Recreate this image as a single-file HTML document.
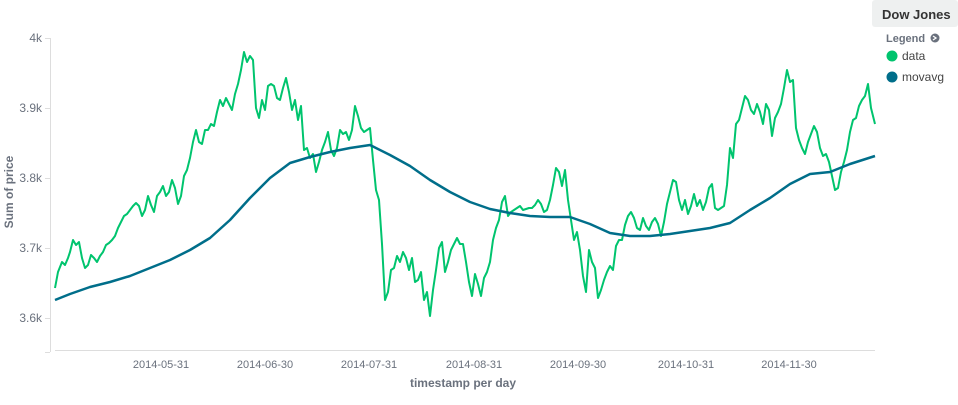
<!DOCTYPE html>
<html><head><meta charset="utf-8"><style>
body{margin:0;background:#fff;width:958px;height:400px;overflow:hidden;font-family:"Liberation Sans",sans-serif}
</style></head><body>
<svg width="958" height="400" xmlns="http://www.w3.org/2000/svg" font-family="Liberation Sans, sans-serif">
<rect x="872" y="0" width="86" height="27" fill="#eef0f0" rx="3"/>
<text x="882" y="19" font-size="13" font-weight="bold" fill="#333">Dow Jones</text>
<text x="886" y="42" font-size="11" font-weight="bold" fill="#6a717d">Legend</text>
<circle cx="935" cy="38" r="4.5" fill="#6a717d"/><path d="M933 36 L936 38 L933 40" stroke="#fff" stroke-width="1.3" fill="none"/>
<circle cx="892" cy="56" r="5.5" fill="#00c46e"/><text x="902" y="60" font-size="12" fill="#444">data</text>
<circle cx="892" cy="77" r="5.5" fill="#006e8a"/><text x="902" y="81" font-size="12" fill="#444">movavg</text>
<g stroke="#ddd" stroke-width="1" fill="none">
<path d="M50.5 38 V352 M45 38.5 H50 M45 108.5 H50 M45 178.5 H50 M45 248.5 H50 M45 318.5 H50 M45 352.5 H50"/>
<path d="M55 350.5 H875"/>
</g>
<g font-size="12" fill="#6a717d" text-anchor="end">
<text x="42" y="42">4k</text><text x="42" y="112">3.9k</text><text x="42" y="182">3.8k</text><text x="42" y="252">3.7k</text><text x="42" y="322">3.6k</text>
</g>
<g font-size="11" fill="#6a717d" text-anchor="middle">
<text x="161" y="368">2014-05-31</text><text x="265" y="368">2014-06-30</text><text x="369" y="368">2014-07-31</text><text x="474" y="368">2014-08-31</text><text x="578" y="368">2014-09-30</text><text x="686" y="368">2014-10-31</text><text x="789" y="368">2014-11-30</text>
</g>
<text x="463" y="387" font-size="12" font-weight="bold" fill="#6a717d" text-anchor="middle">timestamp per day</text>
<text transform="translate(13,192) rotate(-90)" font-size="12" font-weight="bold" fill="#6a717d" text-anchor="middle">Sum of price</text>
<polyline fill="none" stroke="#00c46e" stroke-width="2" stroke-linejoin="round" points="55,288 58,272 62,262 65,265 68,258 70,252 73,240 76,245 79,242 82,258 85,268 88,265 91,255 94,258 97,262 100,256 103,252 106,245 109,243 112,240 115,236 118,228 121,222 124,216 127,214 130,210 133,206 136,203 139,206 142,216 145,210 148,196 151,205 154,212 157,196 160,192 163,186 166,196 169,192 172,180 175,188 178,204 181,196 184,176 187,170 190,158 193,142 196,130 199,142 202,144 205,130 208,130 211,124 214,126 217,112 220,100 223,106 226,98 229,104 232,110 235,94 238,84 241,70 244,52 247,62 250,56 253,60 256,108 259,118 262,100 265,110 268,86 271,84 274,86 277,98 280,100 283,88 286,78 289,92 292,110 295,100 298,120 301,106 304,150 307,148 310,158 313,154 316,172 319,162 322,150 325,142 328,132 331,150 334,156 337,148 340,130 343,134 346,132 349,140 352,130 355,106 358,116 361,128 364,132 367,130 370,128 373,160 376,190 379,200 382,244 385,300 388,292 391,270 394,268 397,256 400,262 403,252 406,258 409,270 412,258 415,282 418,280 421,272 424,300 427,292 430,316 433,290 436,270 439,248 442,242 445,272 448,262 451,250 454,244 457,238 460,244 463,244 466,262 469,282 472,296 475,274 478,284 481,296 484,278 487,272 490,262 493,240 496,228 499,220 502,202 505,196 508,216 511,212 514,210 517,208 520,206 523,210 526,209 529,208 532,208 535,205 538,200 541,204 544,212 547,210 550,200 553,185 556,168 559,172 562,186 565,170 568,200 571,220 574,240 577,232 580,250 583,276 586,292 589,250 592,262 595,268 598,298 601,290 604,280 607,272 610,266 613,270 616,246 619,240 622,240 625,225 628,216 631,212 634,218 637,228 640,230 643,218 646,226 649,230 652,222 655,218 658,224 661,236 664,222 667,204 670,192 673,180 676,182 679,200 682,210 685,200 688,214 691,206 694,194 697,206 700,200 703,210 706,202 709,188 712,184 715,208 718,210 721,208 724,206 727,185 730,148 733,158 736,124 739,120 742,108 745,96 748,100 751,110 754,114 757,104 760,112 763,124 766,104 769,110 772,136 775,118 778,112 781,104 784,88 787,70 790,82 793,80 796,128 799,140 802,148 805,154 808,142 811,134 814,126 817,132 820,148 823,156 826,154 829,162 832,176 835,190 838,188 841,172 844,162 847,150 850,132 853,120 856,118 859,106 862,100 865,96 868,84 871,108 875,124"/>
<polyline fill="none" stroke="#006e8a" stroke-width="2.5" stroke-linejoin="round" points="55,300 70,294 90,287 110,282 130,276 150,268 170,260 190,250 210,238 230,220 250,198 270,178 290,163 310,157 330,152 350,148 370,145 390,155 410,166 430,180 450,192 470,202 490,209 510,213 530,216 550,217 570,217 590,224 610,233 630,236 650,236 670,234 690,231 710,228 730,223 750,210 770,198 790,184 810,174 830,172 850,164 875,156"/>
</svg>
</body></html>
